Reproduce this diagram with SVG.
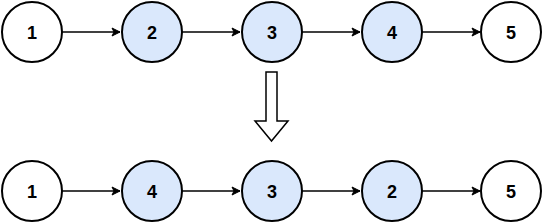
<svg xmlns="http://www.w3.org/2000/svg" width="542" height="222" viewBox="0 0 542 222">
<defs>
<style>
.n{stroke:#000;stroke-width:2;fill:#fff}
.b{fill:#dae8fc}
.t{font-family:"Liberation Sans",Arial,sans-serif;font-weight:bold;font-size:18px;text-anchor:middle;dominant-baseline:central;fill:#000}
.e{stroke:#000;stroke-width:1.5;fill:none;marker-end:url(#ah)}
</style>
<marker id="ah" markerWidth="10" markerHeight="10" refX="9" refY="5" orient="auto" markerUnits="userSpaceOnUse">
<path d="M1,1 L9,5 L1,9 L3,5 Z" fill="#000" stroke="#000" stroke-width="1"/>
</marker>
</defs>
<g id="connectors">
<line class="e" x1="62" y1="32" x2="120" y2="32"/>
<line class="e" x1="182" y1="32" x2="240" y2="32"/>
<line class="e" x1="302" y1="32" x2="360" y2="32"/>
<line class="e" x1="422" y1="32" x2="480" y2="32"/>
<line class="e" x1="62" y1="191" x2="120" y2="191"/>
<line class="e" x1="182" y1="191" x2="240" y2="191"/>
<line class="e" x1="302" y1="191" x2="360" y2="191"/>
<line class="e" x1="422" y1="191" x2="480" y2="191"/>
</g>
<g id="t1"><circle class="n" cx="32" cy="32" r="30"/><text class="t" x="32" y="33">1</text></g>
<g id="t2"><circle class="n b" cx="152" cy="32" r="30"/><text class="t" x="152" y="33">2</text></g>
<g id="t3"><circle class="n b" cx="272" cy="32" r="30"/><text class="t" x="272" y="33">3</text></g>
<g id="t4"><circle class="n b" cx="392" cy="32" r="30"/><text class="t" x="392" y="33">4</text></g>
<g id="t5"><circle class="n" cx="511" cy="32" r="30"/><text class="t" x="511" y="33">5</text></g>
<g id="b1"><circle class="n" cx="32" cy="191" r="30"/><text class="t" x="32" y="192">1</text></g>
<g id="b4"><circle class="n b" cx="152" cy="191" r="30"/><text class="t" x="152" y="192">4</text></g>
<g id="b3"><circle class="n b" cx="272" cy="191" r="30"/><text class="t" x="272" y="192">3</text></g>
<g id="b2"><circle class="n b" cx="392" cy="191" r="30"/><text class="t" x="392" y="192">2</text></g>
<g id="b5"><circle class="n" cx="511" cy="191" r="30"/><text class="t" x="511" y="192">5</text></g>
<g id="bigarrow"><path d="M266,72 L277,72 L277,121 L288,121 L271.5,141 L255,121 L266,121 Z" fill="#fff" stroke="#000" stroke-width="1.5"/></g>
</svg>
